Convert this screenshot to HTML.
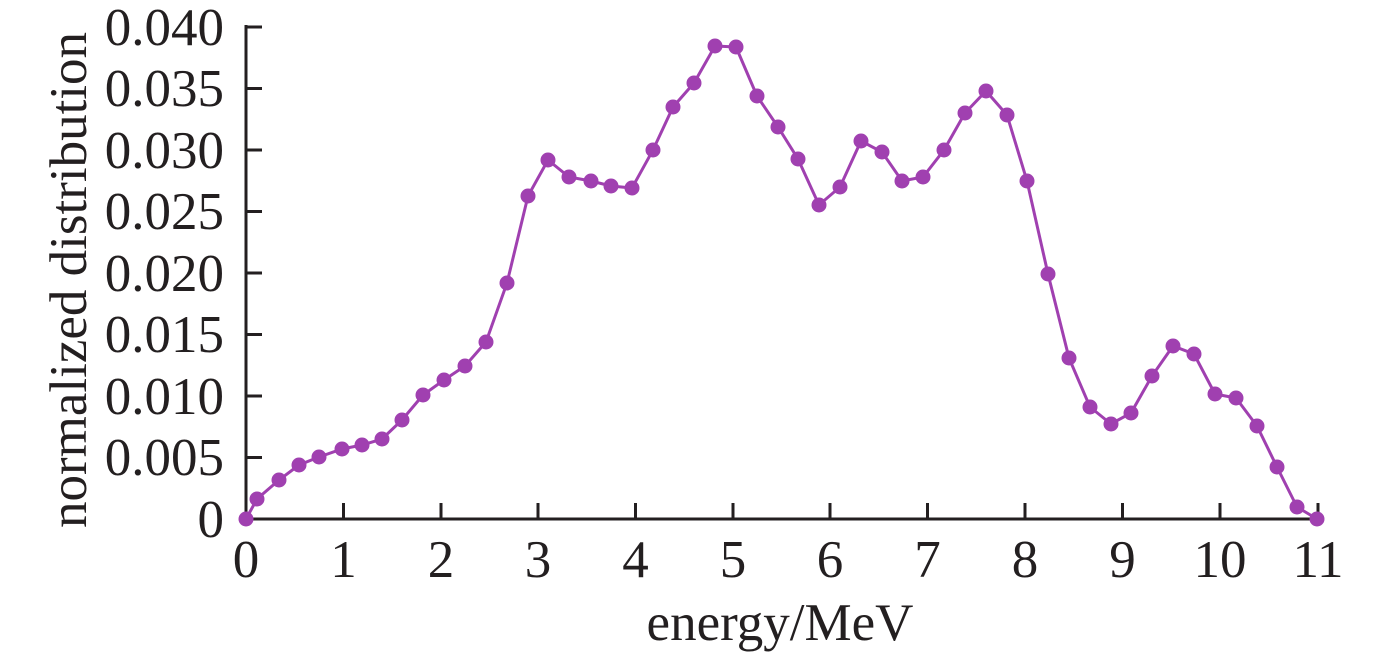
<!DOCTYPE html>
<html><head><meta charset="utf-8"><style>
html,body{margin:0;padding:0;background:#fff;}
svg{display:block;}
text{font-family:"Liberation Serif",serif;fill:#231f20;}
</style></head><body>
<svg width="1378" height="656" viewBox="0 0 1378 656" xmlns="http://www.w3.org/2000/svg">
<g stroke="#231f20" stroke-width="3" fill="none">
<line x1="246" y1="25" x2="246" y2="520"/>
<line x1="244.5" y1="519" x2="1320" y2="519"/>
<line x1="246" y1="27" x2="262" y2="27"/>
<line x1="246" y1="88.5" x2="262" y2="88.5"/>
<line x1="246" y1="150" x2="262" y2="150"/>
<line x1="246" y1="211.5" x2="262" y2="211.5"/>
<line x1="246" y1="273" x2="262" y2="273"/>
<line x1="246" y1="334.5" x2="262" y2="334.5"/>
<line x1="246" y1="396" x2="262" y2="396"/>
<line x1="246" y1="457.5" x2="262" y2="457.5"/>
<line x1="343.5" y1="519" x2="343.5" y2="503"/>
<line x1="441" y1="519" x2="441" y2="503"/>
<line x1="538" y1="519" x2="538" y2="503"/>
<line x1="635.5" y1="519" x2="635.5" y2="503"/>
<line x1="733" y1="519" x2="733" y2="503"/>
<line x1="830" y1="519" x2="830" y2="503"/>
<line x1="927.5" y1="519" x2="927.5" y2="503"/>
<line x1="1025" y1="519" x2="1025" y2="503"/>
<line x1="1122.5" y1="519" x2="1122.5" y2="503"/>
<line x1="1220" y1="519" x2="1220" y2="503"/>
<line x1="1318" y1="519" x2="1318" y2="503"/>
</g>
<g font-size="53" text-anchor="end">
<text x="224" y="45">0.040</text>
<text x="224" y="106">0.035</text>
<text x="224" y="168">0.030</text>
<text x="224" y="229">0.025</text>
<text x="224" y="291">0.020</text>
<text x="224" y="352">0.015</text>
<text x="224" y="414">0.010</text>
<text x="224" y="475">0.005</text>
<text x="224" y="537">0</text>
</g>
<g font-size="53" text-anchor="middle">
<text x="246" y="577">0</text>
<text x="343.5" y="577">1</text>
<text x="441" y="577">2</text>
<text x="538" y="577">3</text>
<text x="635.5" y="577">4</text>
<text x="733" y="577">5</text>
<text x="830" y="577">6</text>
<text x="927.5" y="577">7</text>
<text x="1025" y="577">8</text>
<text x="1122.5" y="577">9</text>
<text x="1220" y="577">10</text>
<text x="1318" y="577">11</text>
<text x="780" y="640">energy/MeV</text>
<text transform="translate(86,280) rotate(-90)">normalized distribution</text>
</g>
<polyline fill="none" stroke="#a040b0" stroke-width="3" points="246,519 257,499 279,480 299,465 319,457 342,449 362,445 382,439 402,420 423,395 444,380 465,366 486,342 507,283 528,196 548,160 569,177 591,181 611,186 632,188 653,150 673,107 694,83 715,46 736,47 757,96 778,127 798,159 819,205 840,187 861,141 882,152 902,181 923,177 944,150 965,113 986,91 1007,115 1027,181 1048,274 1069,358 1090,407 1111,424 1131,413 1152,376 1173,346 1194,354 1215,394 1236,398 1257,426 1277,467 1297,507 1317,519"/>
<g fill="#a040b0" id="m"></g>
<script>
var p="246,519 257,499 279,480 299,465 319,457 342,449 362,445 382,439 402,420 423,395 444,380 465,366 486,342 507,283 528,196 548,160 569,177 591,181 611,186 632,188 653,150 673,107 694,83 715,46 736,47 757,96 778,127 798,159 819,205 840,187 861,141 882,152 902,181 923,177 944,150 965,113 986,91 1007,115 1027,181 1048,274 1069,358 1090,407 1111,424 1131,413 1152,376 1173,346 1194,354 1215,394 1236,398 1257,426 1277,467 1297,507 1317,519".split(" ");
var g=document.getElementById("m");
p.forEach(function(s){var a=s.split(",");var c=document.createElementNS("http://www.w3.org/2000/svg","circle");c.setAttribute("cx",a[0]);c.setAttribute("cy",a[1]);c.setAttribute("r","7.5");g.appendChild(c);});
</script>
</svg>
</body></html>
